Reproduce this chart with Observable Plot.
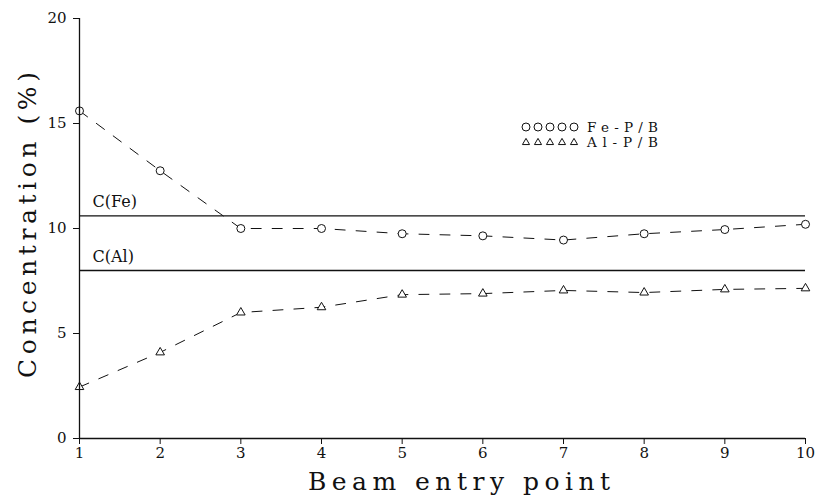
<!DOCTYPE html>
<html>
<head>
<meta charset="utf-8">
<script src="https://cdn.jsdelivr.net/npm/d3@7"></script>
<script src="https://cdn.jsdelivr.net/npm/@observablehq/plot@0.6"></script>
<style>
  html, body { margin: 0; padding: 0; background: #fff; }
  #wrap { position: relative; width: 815px; height: 496px; }
  #overlay { position: absolute; left: 0; top: 0; pointer-events: none; }
  #chart svg text { font-family: "DejaVu Serif", "Liberation Serif", serif; }
</style>
</head>
<body>
<div id="wrap">
  <div id="chart"></div>
</div>
<script>
const entryPoints = [1, 2, 3, 4, 5, 6, 7, 8, 9, 10];
const fePB = [15.6, 12.75, 10.0, 10.0, 9.75, 9.65, 9.45, 9.75, 9.95, 10.2];
const alPB = [2.45, 4.1, 6.0, 6.25, 6.85, 6.9, 7.05, 6.95, 7.1, 7.15];
const refLabels = ["C(Fe)", "C(Al)"];
const refValues = [10.6, 8.0];
const seriesNames = ["Fe-P/B", "Al-P/B"];
const yTicks = [0, 5, 10, 15, 20];
const xTitle = "Beam entry point";
const yTitle = "Concentration (%)";

const fe = entryPoints.map((x, i) => ({x, y: fePB[i]}));
const al = entryPoints.map((x, i) => ({x, y: alPB[i]}));
const refs = refLabels.map((label, i) => ({label, y: refValues[i]}));

const ink = "#111";
const serif = "DejaVu Serif, Liberation Serif, serif";
const chart = Plot.plot({
  width: 815,
  height: 496,
  marginLeft: 79,
  marginRight: 10,
  marginTop: 18,
  marginBottom: 58,
  style: {fontFamily: serif, fontSize: "15px", color: ink, background: "#fff"},
  x: {domain: [1, 10], label: null},
  y: {domain: [0, 20], label: null},
  marks: [
    Plot.ruleY(refs, {y: "y", stroke: ink, strokeWidth: 1.3}),
    Plot.text(refs, {x: () => 1, y: "y", text: "label", textAnchor: "start", dx: 13, dy: -14, fontSize: 16, fill: ink}),
    Plot.line(fe, {x: "x", y: "y", stroke: ink, strokeWidth: 1, strokeDasharray: "10,11"}),
    Plot.line(al, {x: "x", y: "y", stroke: ink, strokeWidth: 1, strokeDasharray: "10,11"}),
    Plot.dot(fe, {x: "x", y: "y", symbol: "circle", r: 4, stroke: ink, fill: "#fff", strokeWidth: 1}),
    Plot.dot(al, {x: "x", y: "y", symbol: "triangle", r: 3.2, stroke: ink, fill: "#fff", strokeWidth: 1}),
    Plot.axisX({ticks: entryPoints, tickFormat: d3.format("d"), tickSize: 6, tickPadding: 3, fontSize: 15, label: null}),
    Plot.axisY({ticks: yTicks, tickSize: 6, tickPadding: 7, fontSize: 15, label: null}),
    Plot.ruleX([1], {stroke: ink, strokeWidth: 1.3}),
    Plot.ruleY([0], {stroke: ink, strokeWidth: 1.3})
  ]
});
document.getElementById("chart").appendChild(chart);

// overlay: axis titles and legend
const ov = d3.select("#wrap").append("svg").attr("id", "overlay")
  .attr("width", 815).attr("height", 496)
  .style("font-family", serif).style("fill", ink);

ov.append("text").text(xTitle)
  .attr("x", 459).attr("y", 490).attr("text-anchor", "middle")
  .attr("font-size", 25).attr("textLength", 302).attr("lengthAdjust", "spacing");

ov.append("text").text(yTitle)
  .attr("transform", "translate(36,225) rotate(-90)").attr("text-anchor", "middle")
  .attr("font-size", 25).attr("textLength", 306).attr("lengthAdjust", "spacing");

const symbols = ["circle", "triangle"];
seriesNames.forEach((name, i) => {
  const g = ov.append("g").attr("transform", `translate(522,${127 + i * 14.5})`);
  for (let k = 0; k < 5; k++) {
    const cx = 4 + k * 12;
    if (symbols[i] === "circle") {
      g.append("circle").attr("cx", cx).attr("cy", 0).attr("r", 4)
        .attr("fill", "none").attr("stroke", ink);
    } else {
      g.append("path").attr("d", d3.symbol(d3.symbolTriangle, 22)())
        .attr("transform", `translate(${cx},1)`)
        .attr("fill", "none").attr("stroke", ink);
    }
  }
  g.append("text").text(name).attr("x", 65).attr("y", 5)
    .attr("font-size", 13.5).attr("textLength", 71).attr("lengthAdjust", "spacing");
});
</script>
</body>
</html>
